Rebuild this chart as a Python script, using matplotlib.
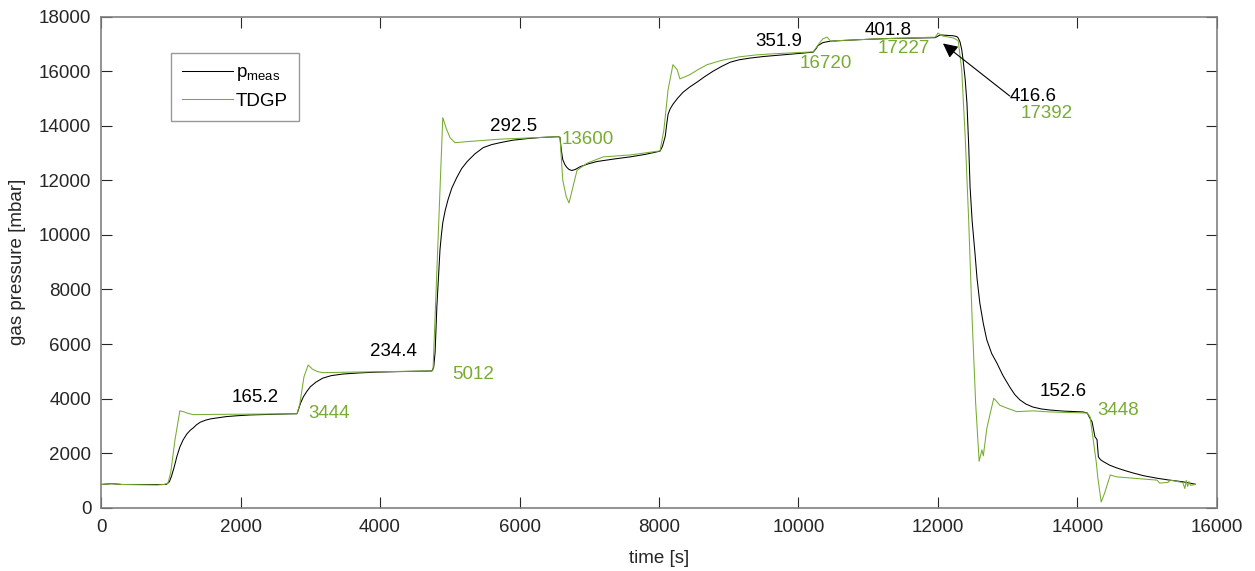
import matplotlib
matplotlib.use("Agg")
import matplotlib.pyplot as plt

plt.rcParams['font.family'] = ['Liberation Sans', 'DejaVu Sans']
plt.rcParams['mathtext.fontset'] = 'custom'
plt.rcParams['mathtext.rm'] = 'Liberation Sans'

# measured gas pressure (black)
t_meas = [0, 150, 300, 903, 940, 980, 1010, 1050, 1090, 1130, 1176, 1230, 1280, 1320,
          1370, 1420, 1500, 1580, 1660, 1800, 1950, 2140, 2400, 2710, 2810,
          2830, 2860, 2900, 2950, 3000, 3080, 3180, 3300, 3470, 3700, 3960, 4300, 4745,
          4770, 4790, 4815, 4840, 4860, 4880, 4900, 4935, 4975, 5030, 5100, 5170, 5250,
          5360, 5480, 5600, 5720, 5900, 6110, 6300, 6550,
          6580, 6600, 6620, 6650, 6680, 6710, 6750, 6800, 6870, 6980, 7110, 7350, 7585,
          7800, 8015,
          8050, 8090, 8110, 8130, 8160, 8200, 8270, 8345, 8440, 8545, 8660, 8775, 8900,
          9020, 9150, 9300, 9500, 9735, 10000, 10210, 10250, 10280, 10350, 10450, 10590,
          10900, 11310, 11700, 11960, 12030, 12150, 12220, 12270, 12290, 12315, 12340,
          12360, 12390, 12415, 12440, 12460, 12490, 12530, 12560, 12600, 12650, 12700,
          12770, 12845, 12930, 13030, 13100, 13175, 13260, 13360, 13480, 13605, 13800,
          14080, 14140, 14170, 14210, 14250, 14265, 14280, 14300, 14330, 14370, 14460,
          14560, 14680, 14800, 14950, 15140, 15320, 15510, 15690]
p_meas = [850, 880, 850, 850, 860, 950, 1150, 1500, 1900, 2220, 2480, 2700, 2840, 2920,
          3040, 3130, 3210, 3260, 3290, 3340, 3370, 3400, 3420, 3440, 3444,
          3590, 3830, 4060, 4260, 4430, 4600, 4750, 4840, 4900, 4940, 4970, 4990, 5012,
          5150, 5700, 7370, 8500, 9460, 10000, 10450, 10900, 11290, 11720, 12100, 12430,
          12690, 12970, 13200, 13310, 13380, 13470, 13530, 13570, 13600,
          13580, 13100, 12760, 12580, 12470, 12400, 12360, 12400, 12500, 12600, 12690,
          12780, 12860, 12950, 13070,
          13250, 13620, 14050, 14420, 14620, 14790, 15020, 15230, 15420, 15600, 15810,
          16000, 16180, 16330, 16420, 16480, 16540, 16590, 16650, 16700, 16820, 16940,
          17050, 17100, 17120, 17160, 17200, 17220, 17230, 17330, 17310, 17300, 17270,
          17220, 17080, 16800, 16410, 15700, 14840, 13300, 11760, 10500, 9340, 8400,
          7500, 6750, 6150, 5650, 5300, 4850, 4420, 4150, 3950, 3800, 3690, 3620, 3580,
          3540, 3510, 3470, 3320, 3140, 2600, 2550, 2490, 1860, 1760, 1690, 1560, 1460,
          1360, 1270, 1170, 1080, 1010, 950, 860]

# TDGP model output (green)
t_tdgp = [0, 150, 300, 800, 903, 960, 1000, 1060, 1130, 1180, 1230, 1320, 1600, 2200,
          2810, 2850, 2910, 2970, 3030, 3100, 3180, 3600, 4745, 4760, 4900, 4950, 5005,
          5075, 5250, 5720, 6550, 6580, 6620, 6670, 6710, 6765, 6825, 6970, 7200, 7585,
          8015, 8070, 8130, 8200, 8260, 8300, 8440, 8560, 8690, 8900, 9160, 9400, 9640,
          10210, 10300, 10350, 10410, 10470, 10550, 11070, 11960, 12000, 12070, 12220,
          12290, 12340, 12390, 12440, 12490, 12540, 12590, 12630, 12650, 12700, 12750,
          12800, 12890, 12990, 13130, 13360, 13600, 14140, 14180, 14220, 14270, 14290,
          14340, 14390, 14470, 14560, 14800, 15140, 15180, 15300, 15330, 15510, 15540,
          15560, 15580, 15600, 15620, 15690]
p_tdgp = [850, 880, 850, 830, 850, 900, 1300, 2480, 3550, 3520, 3470, 3410, 3420, 3430,
          3444, 3800, 4800, 5230, 5080, 4990, 4950, 4970, 5012, 5050, 14300, 13900, 13560,
          13380, 13420, 13510, 13600, 13580, 12010, 11400, 11170, 11750, 12370, 12630,
          12860, 12930, 13080, 13850, 15320, 16240, 16060, 15720, 15870, 16060, 16240,
          16400, 16530, 16600, 16640, 16710, 17030, 17190, 17250, 17080, 17120, 17180,
          17250, 17400, 17290, 17220, 17120, 16060, 13600, 10540, 6880, 3830, 1700, 2120,
          1900, 2900, 3470, 4010, 3750, 3650, 3520, 3550, 3510, 3470, 3330, 2600, 1650,
          1130, 210, 540, 1200, 1130, 1080, 1010, 900, 930, 1010, 920, 700, 1000, 780,
          960, 820, 850]

# value labels: (t, p, text) for measured and model
meas_labels = [(2210, 4030, '165.2'), (3857, 5710, '234.4'), (5580, 13980, '292.5'),
               (9380, 17080, '351.9'), (10950, 17490, '401.8'), (13030, 15070, '416.6'),
               (13460, 4260, '152.6')]
tdgp_labels = [(2970, 3440, '3444'), (5030, 4900, '5012'), (6610, 13500, '13600'),
               (10020, 16300, '16720'), (11140, 16830, '17227'), (13190, 14440, '17392'),
               (14280, 3560, '3448')]

green = '#77AC30'
fs = 13.5

fig = plt.figure(figsize=(12.55, 5.71), dpi=100)
ax = fig.add_axes([0.0805, 0.1109, 0.8892, 0.8599])

ax.plot(t_meas, p_meas, color='black', lw=0.75, label=r'p$_\mathregular{meas}$')
ax.plot(t_tdgp, p_tdgp, color=green, lw=0.75, label='TDGP')

for t, p, s in meas_labels:
    ha = 'center' if s == '165.2' else 'left'
    ax.text(t, p, s, color='black', fontsize=fs, ha=ha, va='center')
for t, p, s in tdgp_labels:
    ax.text(t, p, s, color=green, fontsize=fs, ha='left', va='center')

ax.annotate('', xy=(12040, 17080), xytext=(13060, 15030),
            arrowprops=dict(arrowstyle='-|>', color='black', lw=0.8, mutation_scale=22))

ax.set_xlim(0, 16000)
ax.set_ylim(0, 18000)
ax.set_xticks(range(0, 16001, 2000))
ax.set_yticks(range(0, 18001, 2000))
ax.tick_params(direction='in', length=8, width=0.8, top=True, right=True,
               labelsize=fs, colors='#262626')
ax.tick_params(axis='x', pad=8)
ax.tick_params(axis='y', pad=7)
for sp in ax.spines.values():
    sp.set_color('#808080')
    sp.set_linewidth(1.2)

ax.set_xlabel('time [s]', fontsize=fs, color='#262626', labelpad=10)
ax.set_ylabel('gas pressure [mbar]', fontsize=fs, color='#262626', labelpad=9)

leg = ax.legend(loc='upper left', bbox_to_anchor=(0.0627, 0.926), borderaxespad=0,
                fontsize=fs, frameon=True, fancybox=False, handlelength=2.7,
                handletextpad=0.15, borderpad=0.6, labelspacing=0.5)
leg.get_frame().set_edgecolor('#808080')
leg.get_frame().set_linewidth(1.0)

fig.savefig('out.png', dpi=100)
